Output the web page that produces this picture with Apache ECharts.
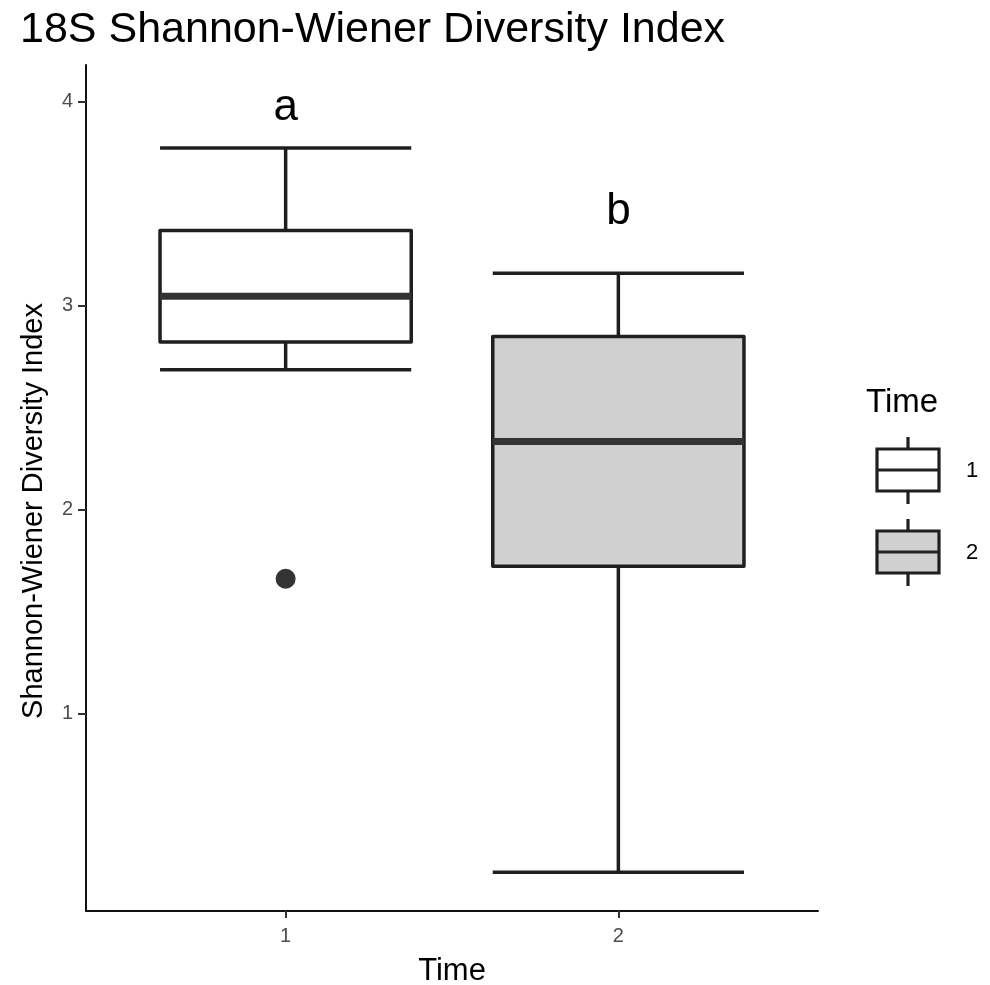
<!DOCTYPE html>
<html>
<head>
<meta charset="utf-8">
<script src="https://cdn.jsdelivr.net/npm/echarts@6/dist/echarts.min.js"></script>
<style>
html,body{margin:0;padding:0;background:#fff;overflow:hidden;}
#chart{width:990px;height:985px;}
</style>
</head>
<body>
<div id="chart"></div>
<script>
// ---- data ----
const categories = ['1', '2'];
const lowWhisker = [2.686, 0.224];
const q1 = [2.823, 1.724];
const median = [3.047, 2.335];
const q3 = [3.369, 2.849];
const highWhisker = [3.773, 3.160];
const outlierCategory = ['1'];
const outlierValue = [1.662];
const sigLetters = ['a', 'b'];
const sigLetterY = [3.97, 3.46];
const yTicks = [1, 2, 3, 4];
const fills = ['#ffffff', '#d0d0d0'];

const FONT = '"Liberation Sans", Arial, Helvetica, sans-serif';
const STROKE = '#1f1f1f';
const BOX_WIDTH = 0.755;

const xPos = categories.map(Number);
const boxData = categories.map((c, i) => [xPos[i], lowWhisker[i], q1[i], median[i], q3[i], highWhisker[i], i]);
const outlierData = outlierCategory.map((c, i) => [Number(c), outlierValue[i]]);
const letterData = categories.map((c, i) => [xPos[i], sigLetterY[i], sigLetters[i]]);

function renderBox(params, api) {
  const x = api.value(0);
  const lo = api.coord([x, api.value(1)]);
  const pq1 = api.coord([x, api.value(2)]);
  const pmd = api.coord([x, api.value(3)]);
  const pq3 = api.coord([x, api.value(4)]);
  const hi = api.coord([x, api.value(5)]);
  const idx = api.value(6);
  const w = api.size([BOX_WIDTH, 0])[0];
  const h = w / 2;
  const cx = lo[0];
  const ls = {stroke: STROKE, lineWidth: 3.5, lineCap: 'butt'};
  return {
    type: 'group',
    children: [
      {type: 'line', shape: {x1: cx, y1: lo[1], x2: cx, y2: pq1[1]}, style: ls},
      {type: 'line', shape: {x1: cx, y1: pq3[1], x2: cx, y2: hi[1]}, style: ls},
      {type: 'line', shape: {x1: cx - h, y1: lo[1], x2: cx + h, y2: lo[1]}, style: ls},
      {type: 'line', shape: {x1: cx - h, y1: hi[1], x2: cx + h, y2: hi[1]}, style: ls},
      {type: 'rect', shape: {x: cx - h, y: pq3[1], width: w, height: pq1[1] - pq3[1]},
        style: {fill: fills[idx], stroke: STROKE, lineWidth: 3.5, lineJoin: 'round'}},
      {type: 'line', shape: {x1: cx - h, y1: pmd[1], x2: cx + h, y2: pmd[1]},
        style: {stroke: '#333333', lineWidth: 7}}
    ]
  };
}

// legend keys (graphic)
function legendKey(top, fill) {
  const x0 = 877, x1 = 939, bh = 42, cx = (x0 + x1) / 2;
  const st = {stroke: STROKE, lineWidth: 3.2};
  return [
    {type: 'line', shape: {x1: cx, y1: top - 12, x2: cx, y2: top}, style: st},
    {type: 'line', shape: {x1: cx, y1: top + bh, x2: cx, y2: top + bh + 13}, style: st},
    {type: 'rect', shape: {x: x0, y: top, width: x1 - x0, height: bh}, style: {fill: fill, stroke: STROKE, lineWidth: 3.2}},
    {type: 'line', shape: {x1: x0, y1: top + bh / 2, x2: x1, y2: top + bh / 2}, style: {stroke: '#222', lineWidth: 3.2}}
  ];
}

const chart = echarts.init(document.getElementById('chart'), null, {renderer: 'canvas', width: 990, height: 985});
chart.setOption({
  backgroundColor: '#ffffff',
  animation: false,
  title: {
    text: '18S Shannon-Wiener Diversity Index',
    left: 15, top: 4,
    textStyle: {fontFamily: FONT, fontSize: 43, fontWeight: 'normal', color: '#000'}
  },
  grid: {left: 86, width: 732, top: 65, height: 846, containLabel: false, outerBoundsMode: 'none'},
  xAxis: {
    type: 'value', min: 0.4, max: 2.6,
    name: 'Time', nameLocation: 'middle', nameGap: 45,
    nameTextStyle: {fontFamily: FONT, fontSize: 31, color: '#000'},
    axisLine: {show: true, lineStyle: {color: '#111', width: 2}},
    axisTick: {show: true, length: 7, customValues: xPos, lineStyle: {color: '#333', width: 2}},
    axisLabel: {customValues: xPos, formatter: v => categories[xPos.indexOf(v)] || '', fontFamily: FONT, fontSize: 20, color: '#4d4d4d', margin: 15},
    splitLine: {show: false}
  },
  yAxis: {
    type: 'value', min: 0.034, max: 4.18,
    axisLine: {show: true, lineStyle: {color: '#111', width: 2}},
    axisTick: {show: true, length: 8, customValues: yTicks, lineStyle: {color: '#333', width: 2}},
    axisLabel: {customValues: yTicks, fontFamily: FONT, fontSize: 20, color: '#4d4d4d', margin: 13},
    splitLine: {show: false}
  },
  series: [
    {type: 'custom', renderItem: renderBox, data: boxData, encode: {x: 0, y: [1, 2, 3, 4, 5]}, z: 2},
    {type: 'scatter', data: outlierData, symbol: 'circle', symbolSize: 20, itemStyle: {color: '#333333', opacity: 1}, z: 3},
    {type: 'scatter', data: letterData, symbolSize: 0, z: 3, itemStyle: {opacity: 1},
      label: {show: true, position: 'inside', formatter: p => p.value[2], fontFamily: FONT, fontSize: 44, color: '#000', opacity: 1, textBorderWidth: 0}}
  ],
  graphic: [
    {type: 'text', x: 34, y: 511, rotation: Math.PI / 2,
      style: {text: 'Shannon-Wiener Diversity Index', font: '29px ' + FONT, fill: '#000', align: 'center', verticalAlign: 'middle'}},
    {type: 'text', left: 866, top: 386, style: {text: 'Time', font: '33px ' + FONT, fill: '#000'}},
    ...legendKey(449, fills[0]),
    ...legendKey(531, fills[1]),
    {type: 'text', x: 966, y: 471, style: {text: categories[0], font: '22px ' + FONT, fill: '#000', verticalAlign: 'middle'}},
    {type: 'text', x: 966, y: 553, style: {text: categories[1], font: '22px ' + FONT, fill: '#000', verticalAlign: 'middle'}}
  ]
});
</script>
</body>
</html>
